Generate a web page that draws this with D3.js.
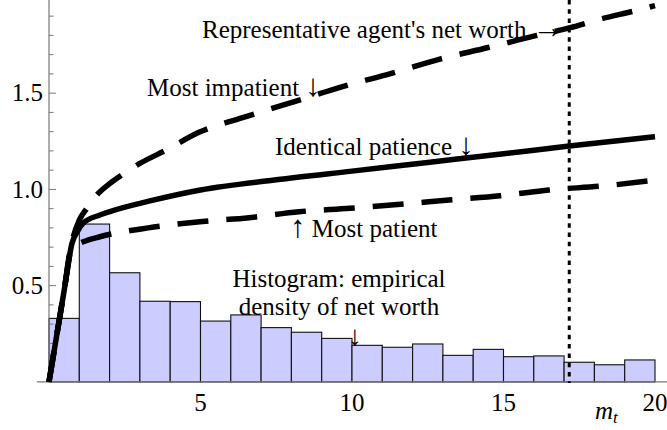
<!DOCTYPE html>
<html>
<head>
<meta charset="utf-8">
<script src="https://cdn.jsdelivr.net/npm/d3@7"></script>
<style>
  html, body { margin: 0; padding: 0; background: #fff; }
  svg { display: block; }
  text { font-family: "Liberation Serif", "Times New Roman", serif; fill: #000; }
</style>
</head>
<body>
<svg id="chart" width="667" height="430"></svg>
<script>
// ---------- data ----------
const binStarts = [0,1,2,3,4,5,6,7,8,9,10,11,12,13,14,15,16,17,18,19];
const binWidth = 1;
const histDensity = [0.330,0.820,0.567,0.419,0.417,0.316,0.348,0.282,0.258,0.226,
                     0.190,0.180,0.197,0.138,0.169,0.131,0.135,0.102,0.089,0.114];

const mImpatient = [0,0.5,0.78,1.0,1.24,1.57,2.0,2.45,3.0,3.88,4.93,6.5,8.1,9.66,11.3,12.9,14.5,16.1,17.2,18.2,19.4,20];
const cImpatient = [0,0.475,0.74,0.84,0.90,0.97,1.03,1.08,1.135,1.205,1.295,1.378,1.456,1.533,1.603,1.677,1.737,1.80,1.84,1.885,1.93,1.955];

const mIdentical = [0,0.5,0.76,0.95,1.13,1.68,2.01,3.33,5.0,7.5,10,12.5,15,17.17,20];
const cIdentical = [0,0.475,0.72,0.785,0.825,0.867,0.885,0.94,0.997,1.05,1.095,1.14,1.185,1.225,1.274];

const mPatient = [0,0.5,0.72,0.9,1.13,1.68,3.27,4.98,6.6,8.25,9.93,11.6,13.2,14.9,16.5,18.3,20];
const cPatient = [0,0.475,0.685,0.71,0.728,0.754,0.80,0.832,0.853,0.884,0.902,0.923,0.945,0.967,0.997,1.018,1.048];

const repAgentM = 17.17;

const xTickValues = [5,10,15,20];
const xTickLabels = ["5","10","15","20"];
const yTickValues = [0.5,1.0,1.5];
const yTickLabels = ["0.5","1.0","1.5"];
const yMinorTicks = [0.1,0.2,0.3,0.4,0.6,0.7,0.8,0.9,1.1,1.2,1.3,1.4,1.6,1.7,1.8,1.9];

// ---------- scales ----------
const svg = d3.select("#chart");
const x = d3.scaleLinear().domain([0, 20]).range([49, 655]);
const y = d3.scaleLinear().domain([0, 2]).range([381.9, -3.1]);

// ---------- histogram ----------
svg.append("g").selectAll("rect")
  .data(binStarts.map((b, i) => ({b, v: histDensity[i]})))
  .join("rect")
  .attr("x", d => x(d.b))
  .attr("y", d => y(d.v))
  .attr("width", d => x(d.b + binWidth) - x(d.b))
  .attr("height", d => y(0) - y(d.v))
  .attr("fill", "#ccccff")
  .attr("stroke", "#111")
  .attr("stroke-width", 1.1);

// ---------- axes ----------
const axisColor = "#777";
svg.append("line")
  .attr("x1", x(-0.4)).attr("x2", x(20.4))
  .attr("y1", y(0)).attr("y2", y(0))
  .attr("stroke", axisColor).attr("stroke-width", 1.2);
svg.append("line")
  .attr("x1", x(0)).attr("x2", x(0))
  .attr("y1", y(0)).attr("y2", 0)
  .attr("stroke", axisColor).attr("stroke-width", 1.2);

svg.append("g").selectAll("line.maj")
  .data(yTickValues).join("line")
  .attr("x1", x(0)).attr("x2", x(0) + 7)
  .attr("y1", d => y(d)).attr("y2", d => y(d))
  .attr("stroke", axisColor).attr("stroke-width", 1);
svg.append("g").selectAll("line.min")
  .data(yMinorTicks).join("line")
  .attr("x1", x(0)).attr("x2", x(0) + 4.5)
  .attr("y1", d => y(d)).attr("y2", d => y(d))
  .attr("stroke", axisColor).attr("stroke-width", 1);

svg.append("g").selectAll("text")
  .data(yTickValues).join("text")
  .attr("x", 43)
  .attr("y", d => y(d) + 8.3)
  .attr("text-anchor", "end")
  .attr("font-size", 25)
  .text((d, i) => yTickLabels[i]);

svg.append("g").selectAll("text")
  .data(xTickValues).join("text")
  .attr("x", d => x(d))
  .attr("y", 411)
  .attr("text-anchor", "middle")
  .attr("font-size", 25)
  .text((d, i) => xTickLabels[i]);

// axis label m_t
const lab = svg.append("text").attr("x", 595).attr("y", 419).attr("font-size", 25).attr("font-style", "italic");
lab.append("tspan").text("m");
lab.append("tspan").attr("font-size", 17).attr("dy", 4).text("t");

// ---------- curves ----------
const line = d3.line().x(d => x(d[0])).y(d => y(d[1])).curve(d3.curveMonotoneX);
function pts(ms, cs) { return ms.map((m, i) => [m, cs[i]]); }

svg.append("path").datum(pts(mImpatient, cImpatient))
  .attr("d", line).attr("fill", "none").attr("stroke", "#000")
  .attr("stroke-width", 5.5).attr("stroke-dasharray", "31,18");
svg.append("path").datum(pts(mPatient, cPatient))
  .attr("d", line).attr("fill", "none").attr("stroke", "#000")
  .attr("stroke-width", 5.5).attr("stroke-dasharray", "31,18");
svg.append("path").datum(pts(mIdentical, cIdentical))
  .attr("d", line).attr("fill", "none").attr("stroke", "#000")
  .attr("stroke-width", 5.5);

// representative agent dotted line
svg.append("line")
  .attr("x1", x(repAgentM)).attr("x2", x(repAgentM))
  .attr("y1", 0).attr("y2", y(0) + 1)
  .attr("stroke", "#000").attr("stroke-width", 3)
  .attr("stroke-dasharray", "4.5,4.8");

// ---------- annotations ----------
const fs = 25, afs = 31;
function label(xp, yp, parts) {
  const t = svg.append("text").attr("x", xp).attr("y", yp).attr("font-size", fs);
  parts.forEach(p => {
    const s = t.append("tspan").text(p.s);
    if (p.arrow) s.attr("font-size", afs);
  });
  return t;
}
label(202, 38, [{s: "Representative agent's net worth "}, {s: "\u2192", arrow: true}]);
label(147, 96, [{s: "Most impatient "}, {s: "\u2193", arrow: true}]);
label(275, 155, [{s: "Identical patience "}, {s: "\u2193", arrow: true}]);
label(290, 237, [{s: "\u2191", arrow: true}, {s: " Most patient"}]);

const hist = svg.append("text").attr("font-size", fs).attr("text-anchor", "middle");
hist.append("tspan").attr("x", 339).attr("y", 286.5).text("Histogram: empirical");
hist.append("tspan").attr("x", 339).attr("y", 315).text("density of net worth");
svg.append("text").attr("x", 355).attr("y", 345).attr("font-size", 28)
  .attr("text-anchor", "middle").text("\u2193");
</script>
</body>
</html>
